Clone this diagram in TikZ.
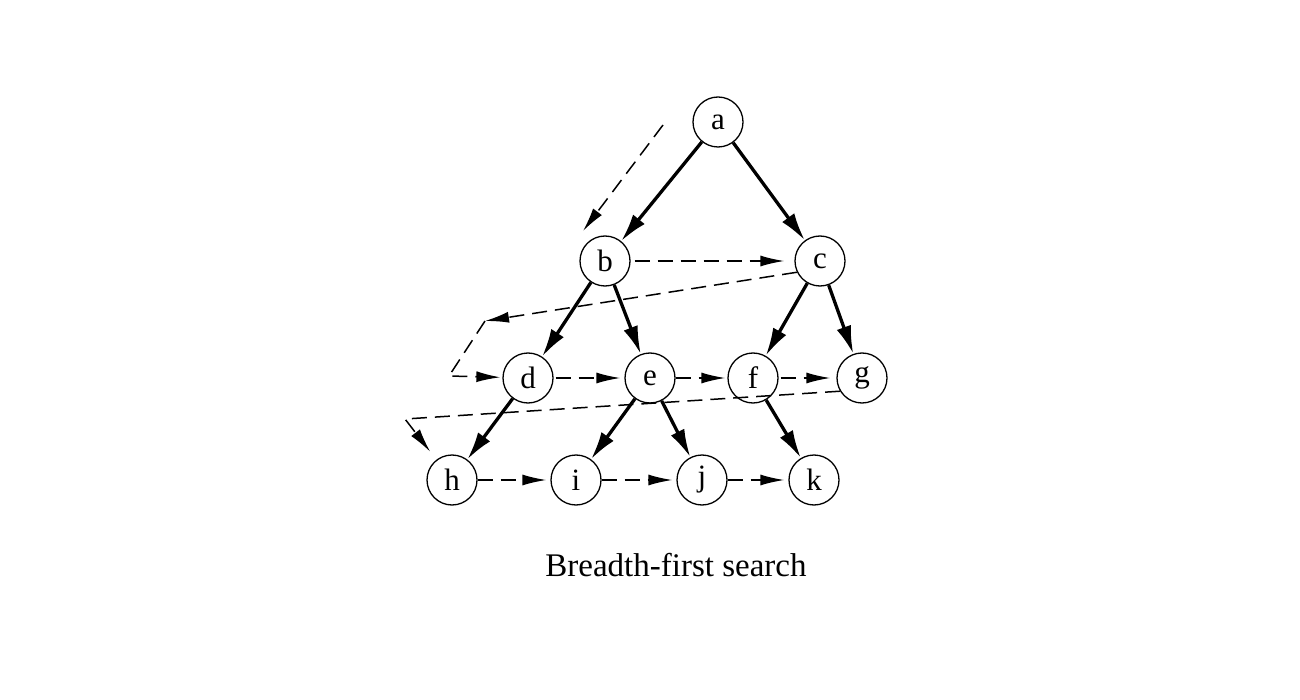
\documentclass[tikz,border=0pt]{standalone}
\usepackage{fontspec}
\setmainfont{Liberation Serif}
\usetikzlibrary{arrows.meta}
\tikzset{
  vnode/.style={circle,draw,line width=1.3pt,minimum size=50pt,inner sep=0pt,font=\fontsize{31}{36}\selectfont},
  tree/.style={line width=3.3pt,-{Latex[length=28pt,width=15pt]}},
  visit/.style={line width=1.5pt,dash pattern=on 15pt off 8pt,-{Latex[length=24pt,width=11pt]}},
}
\begin{document}
\begin{tikzpicture}[x=1pt,y=-1pt]
\useasboundingbox (0,0) rectangle (1300,700);
\node[vnode] (a) at (718,122) {a};
\node[vnode] (b) at (605,261) {b};
\node[vnode] (c) at (820,261) {c};
\node[vnode] (d) at (528,378) {d};
\node[vnode] (e) at (650,378) {e};
\node[vnode] (f) at (753,378) {f};
\node[vnode] (g) at (862,378) {g};
\node[vnode] (h) at (452,480) {h};
\node[vnode] (i) at (576,480) {i};
\node[vnode] (j) at (702,480) {j};
\node[vnode] (k) at (814,480) {k};
\node[font=\fontsize{33}{40}\selectfont] (cap) at (676,565) {Breadth-first search};
% tree edges
\draw[tree] (a) -- (b);
\draw[tree] (a) -- (c);
\draw[tree] (b) -- (d);
\draw[tree] (b) -- (e);
\draw[tree] (c) -- (f);
\draw[tree] (c) -- (g);
\draw[tree] (d) -- (h);
\draw[tree] (e) -- (i);
\draw[tree] (e) -- (j);
\draw[tree] (f) -- (k);
% visiting order
\coordinate (s0) at (663,125);
\coordinate (t0) at (583,231);
\draw[visit] (s0) -- (t0);
\draw[visit,shorten <=4pt,shorten >=10pt] (b) -- (c);
\coordinate (cd1) at (485,321);
\coordinate (cd2) at (449,376);
\draw[visit] (c.206) -- (cd1);
\draw[visit,shorten >=2pt] (cd1) -- (cd2) -- (d);
\draw[visit,shorten <=2pt,shorten >=4pt] (d) -- (e);
\draw[visit,shorten >=2pt] (e) -- (f);
\draw[visit,shorten <=2pt,shorten >=6pt] (f) -- (g);
\coordinate (gh1) at (405,419);
\draw[visit,shorten >=10pt] (g.211) -- (gh1) -- (h);
\draw[visit,shorten >=4pt] (h) -- (i);
\draw[visit,shorten >=4pt] (i) -- (j);
\draw[visit,shorten >=4pt] (j) -- (k);
\end{tikzpicture}
\end{document}
